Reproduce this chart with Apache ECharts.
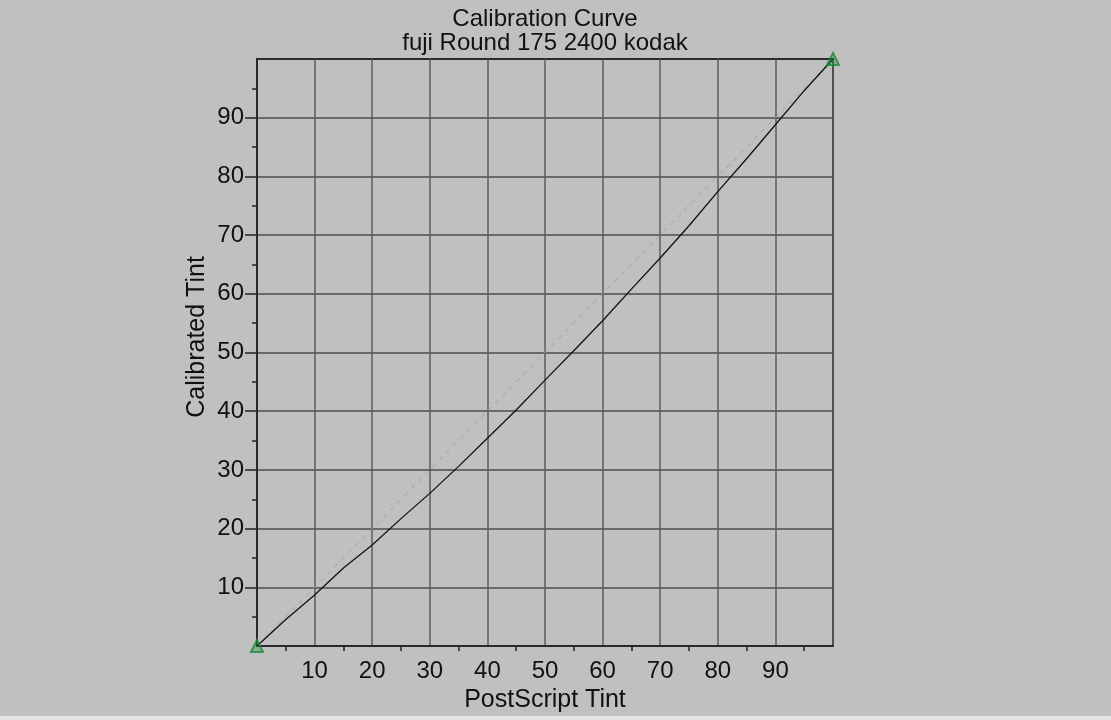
<!DOCTYPE html>
<html>
<head>
<meta charset="utf-8">
<script src="https://cdn.jsdelivr.net/npm/echarts@6/dist/echarts.min.js"></script>
<style>
html,body{margin:0;padding:0;background:#c0c0c0;}
#chart{width:1111px;height:720px;}
</style>
</head>
<body>
<div id="chart"></div>
<script>
const titleLines = ['Calibration Curve', 'fuji Round 175 2400 kodak'];
const xName = 'PostScript Tint';
const yName = 'Calibrated Tint';
const tickValues = [10, 20, 30, 40, 50, 60, 70, 80, 90];
const postscriptTint = [0, 5, 10, 15, 20, 25, 30, 35, 40, 45, 50, 55, 60, 65, 70, 75, 80, 85, 90, 95, 100];
const calibratedTint = [0, 4.5, 8.7, 13.3, 17.2, 21.7, 26.0, 30.6, 35.4, 40.2, 45.3, 50.3, 55.4, 60.8, 66.1, 71.6, 77.4, 83.0, 88.8, 94.6, 100];
const referenceX = [0, 100];
const referenceY = [0, 100];
const endpointX = [0, 100];
const endpointY = [0, 100];

const chart = echarts.init(document.getElementById('chart'), null, {renderer: 'canvas'});
const font = 'Liberation Sans, Arial, sans-serif';
const axisCommon = {
  type: 'value', min: 0, max: 100, interval: 10,
  axisLine: {show: true, lineStyle: {color: '#2a2a2a', width: 2}},
  axisLabel: {customValues: tickValues, color: '#111', fontSize: 24, fontFamily: font, margin: 13},
  minorTick: {show: true, splitNumber: 2, length: 5, lineStyle: {color: '#222', width: 1.5}},
  minorSplitLine: {show: false}
};
chart.setOption({
  backgroundColor: '#c0c0c0',
  animation: false,
  title: {
    text: titleLines.join('\n'), left: 540, textAlign: 'center', top: 2,
    textStyle: {color: '#111', fontSize: 24, fontWeight: 'normal', fontFamily: font, lineHeight: 24}
  },
  grid: {left: 257, top: 59, width: 576, height: 587, show: true, borderColor: '#2a2a2a', borderWidth: 2, backgroundColor: 'transparent'},
  xAxis: Object.assign({}, axisCommon, {
    name: xName, nameLocation: 'middle', nameGap: 40,
    nameTextStyle: {color: '#111', fontSize: 25, fontFamily: font},
    axisTick: {show: false},
    axisLabel: Object.assign({}, axisCommon.axisLabel, {margin: 13}),
    splitLine: {show: true, lineStyle: {color: '#5c5c5c', width: 1.5}}
  }),
  yAxis: Object.assign({}, axisCommon, {
    axisTick: {show: true, customValues: tickValues, length: 12, lineStyle: {color: '#222', width: 1.5}},
    splitLine: {show: true, lineStyle: {color: '#4d4d4d', width: 1.5}}
  }),
  graphic: [
    {type: 'text', x: 197, y: 337, rotation: Math.PI / 2,
     style: {text: yName, fill: '#111', font: '25px ' + font, align: 'center', verticalAlign: 'middle'}},
    {type: 'rect', shape: {x: 0, y: 716, width: 1111, height: 4}, style: {fill: '#e4e4e4'}, silent: true}
  ],
  series: [
    {type: 'line', data: referenceX.map((v, i) => [v, referenceY[i]]), symbol: 'none', silent: true,
     lineStyle: {color: '#a0a0a0', width: 1, type: [5, 5]}, z: 2},
    {type: 'line', data: postscriptTint.map((v, i) => [v, calibratedTint[i]]), symbol: 'none', silent: true,
     lineStyle: {color: '#111', width: 1.3}, z: 3},
    {type: 'scatter', data: endpointX.map((v, i) => [v, endpointY[i]]), symbol: 'triangle', symbolSize: 12,
     clip: false, itemStyle: {color: 'rgba(30,140,60,0.45)', borderColor: '#188a38', borderWidth: 2}, z: 5}
  ]
});
</script>
</body>
</html>
